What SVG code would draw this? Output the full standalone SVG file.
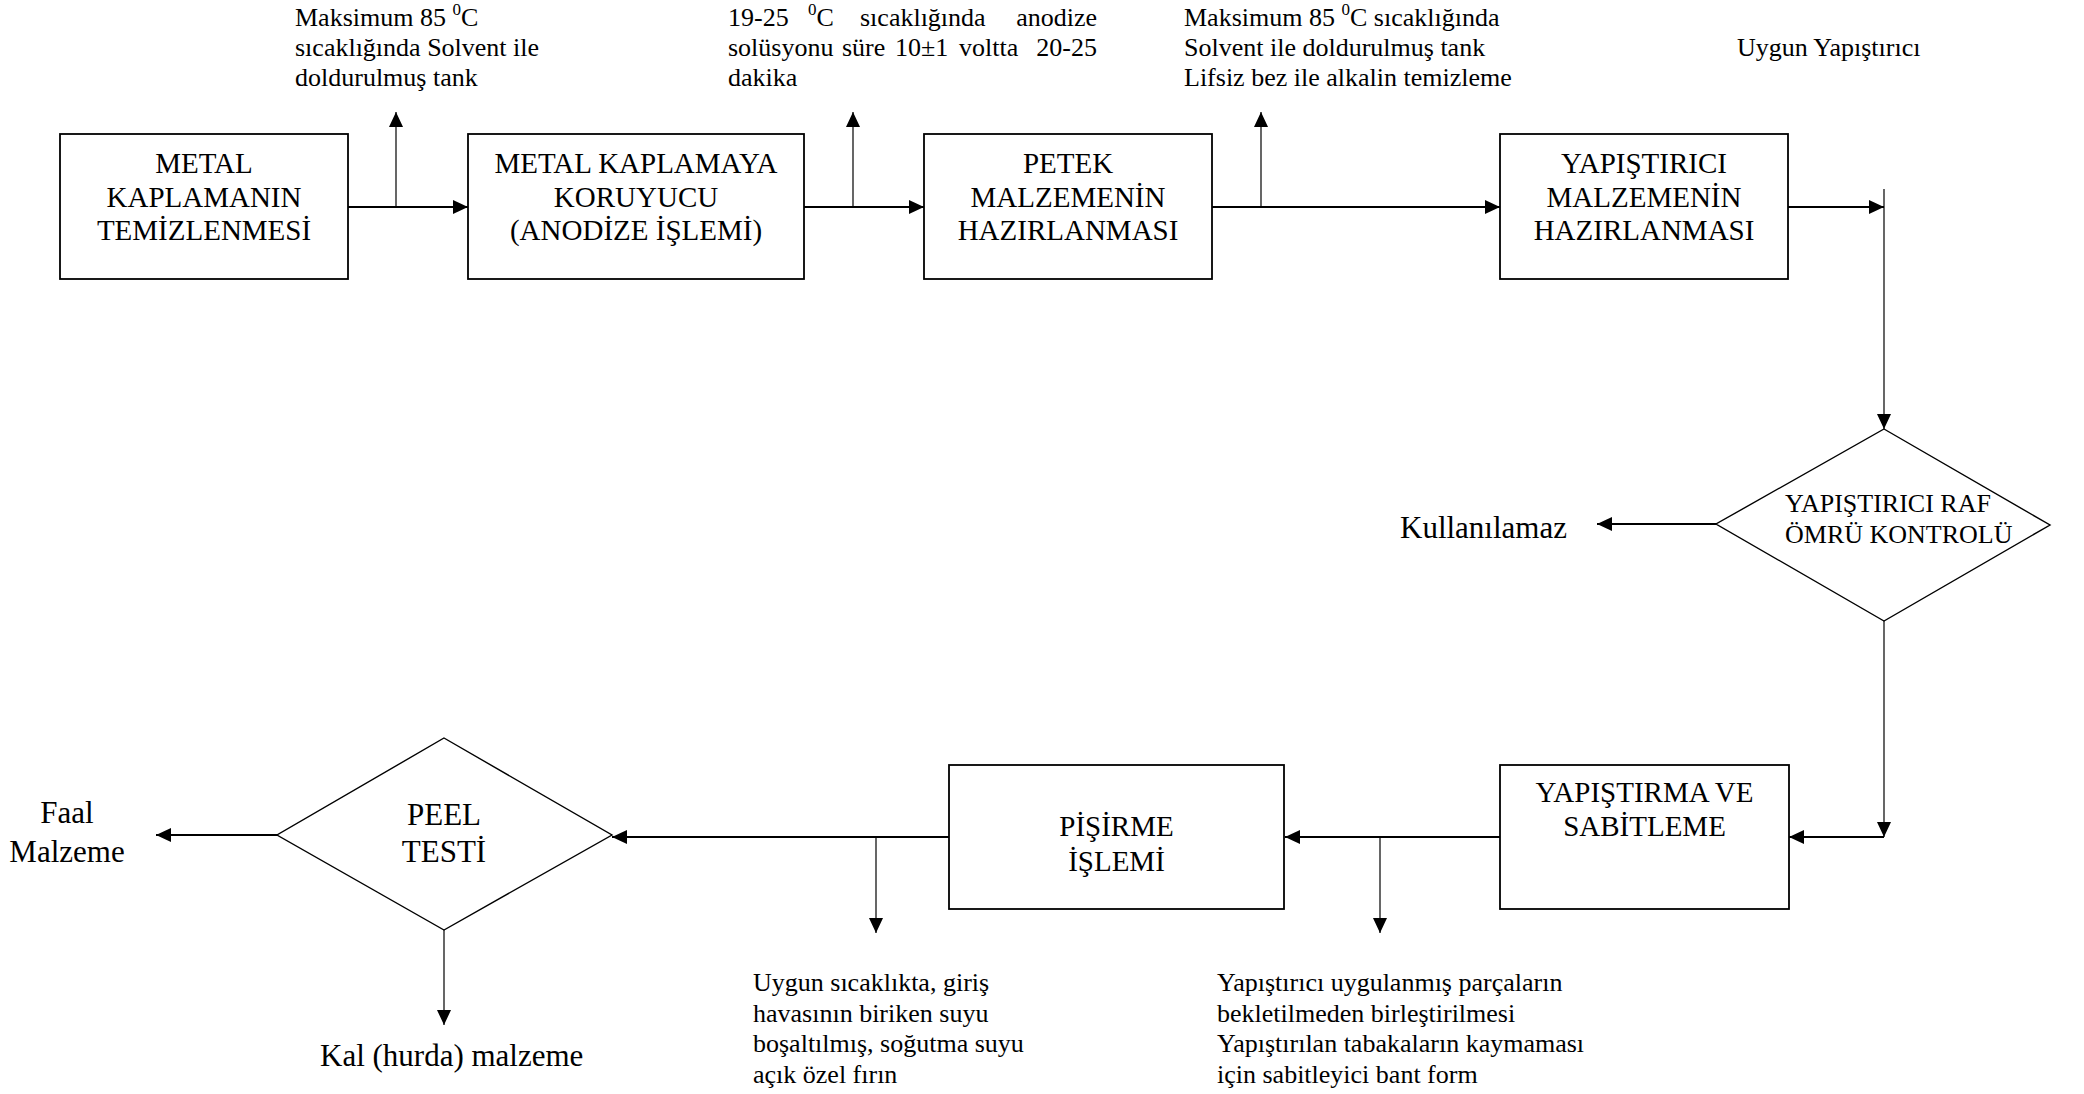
<svg xmlns="http://www.w3.org/2000/svg" width="2084" height="1094" viewBox="0 0 2084 1094">
<defs>
<marker id="ah" viewBox="0 0 15 14" refX="15" refY="7" markerWidth="15" markerHeight="14" markerUnits="userSpaceOnUse" orient="auto">
<path d="M0,0 L15,7 L0,14 z" fill="#000"/>
</marker>
<style>
text{font-family:"Liberation Serif","Times New Roman",serif;fill:#000}
.bx{font-size:29px;text-anchor:middle}
.an{font-size:26px}
.lb{font-size:31px}
.dt{font-size:26px}
.sup{font-size:17px}
.node{fill:#fff;stroke:#000}
rect.node{stroke-width:1.8}
polygon.node{stroke-width:1.4}
.main{stroke:#000;stroke-width:2;fill:none;marker-end:url(#ah)}
.br{stroke:#000;stroke-width:1.2;fill:none;marker-end:url(#ah)}
</style>
</defs>
<rect x="0" y="0" width="2084" height="1094" fill="#fff"/>

<g id="connectors">
<line class="main" x1="348" y1="207" x2="468" y2="207"/>
<line class="br" x1="396" y1="207" x2="396" y2="112"/>
<line class="main" x1="804" y1="207" x2="924" y2="207"/>
<line class="br" x1="853" y1="207" x2="853" y2="112"/>
<line class="main" x1="1212" y1="207" x2="1500" y2="207"/>
<line class="br" x1="1261" y1="207" x2="1261" y2="112"/>
<line class="main" x1="1788" y1="207" x2="1884" y2="207"/>
<line class="br" x1="1884" y1="189" x2="1884" y2="429"/>
<line class="main" x1="1716" y1="524" x2="1597" y2="524"/>
<line class="br" x1="1884" y1="621" x2="1884" y2="837"/>
<line class="main" x1="1884" y1="837" x2="1789" y2="837"/>
<line class="main" x1="1500" y1="837" x2="1285" y2="837"/>
<line class="br" x1="1380" y1="837" x2="1380" y2="933"/>
<line class="main" x1="949" y1="837" x2="612" y2="837"/>
<line class="br" x1="876" y1="837" x2="876" y2="933"/>
<line class="main" x1="277" y1="835" x2="156" y2="835"/>
<line class="br" x1="444" y1="930" x2="444" y2="1025"/>
</g>

<g id="note1">
<text class="an" x="295" y="26">Maksimum 85 <tspan class="sup" dy="-11">0</tspan><tspan dy="11">C</tspan></text>
<text class="an" x="295" y="56">sıcaklığında Solvent ile</text>
<text class="an" x="295" y="86">doldurulmuş tank</text>
</g>
<g id="note2">
<text class="an" x="728" y="26">19-25</text>
<text class="an" x="808" y="26"><tspan class="sup" dy="-11">0</tspan><tspan dy="11">C</tspan></text>
<text class="an" x="860" y="26">sıcaklığında</text>
<text class="an" x="1097" y="26" text-anchor="end">anodize</text>
<text class="an" x="728" y="56">solüsyonu</text>
<text class="an" x="842" y="56">süre</text>
<text class="an" x="895" y="56">10±1</text>
<text class="an" x="959" y="56">voltta</text>
<text class="an" x="1097" y="56" text-anchor="end">20-25</text>
<text class="an" x="728" y="86">dakika</text>
</g>
<g id="note3">
<text class="an" x="1184" y="26">Maksimum 85 <tspan class="sup" dy="-11">0</tspan><tspan dy="11">C sıcaklığında</tspan></text>
<text class="an" x="1184" y="56">Solvent ile doldurulmuş tank</text>
<text class="an" x="1184" y="86">Lifsiz bez ile alkalin temizleme</text>
</g>
<g id="note4">
<text class="an" x="1737" y="56">Uygun Yapıştırıcı</text>
</g>

<g id="box1">
<rect class="node" x="60" y="134" width="288" height="145"/>
<text class="bx" x="204" y="173">METAL</text>
<text class="bx" x="204" y="206.5">KAPLAMANIN</text>
<text class="bx" x="204" y="240">TEMİZLENMESİ</text>
</g>
<g id="box2">
<rect class="node" x="468" y="134" width="336" height="145"/>
<text class="bx" x="636" y="173">METAL KAPLAMAYA</text>
<text class="bx" x="636" y="206.5">KORUYUCU</text>
<text class="bx" x="636" y="240">(ANODİZE İŞLEMİ)</text>
</g>
<g id="box3">
<rect class="node" x="924" y="134" width="288" height="145"/>
<text class="bx" x="1068" y="173">PETEK</text>
<text class="bx" x="1068" y="206.5">MALZEMENİN</text>
<text class="bx" x="1068" y="240">HAZIRLANMASI</text>
</g>
<g id="box4">
<rect class="node" x="1500" y="134" width="288" height="145"/>
<text class="bx" x="1644" y="173">YAPIŞTIRICI</text>
<text class="bx" x="1644" y="206.5">MALZEMENİN</text>
<text class="bx" x="1644" y="240">HAZIRLANMASI</text>
</g>

<g id="decision1">
<polygon class="node" points="1884,429 2050,525 1884,621 1716,524"/>
<text class="dt" x="1785" y="512">YAPIŞTIRICI RAF</text>
<text class="dt" x="1785" y="543">ÖMRÜ KONTROLÜ</text>
</g>
<g id="unusable">
<text class="lb" x="1400" y="538">Kullanılamaz</text>
</g>

<g id="box5">
<rect class="node" x="1500" y="765" width="289" height="144"/>
<text class="bx" x="1644.5" y="801.5">YAPIŞTIRMA VE</text>
<text class="bx" x="1644.5" y="836">SABİTLEME</text>
</g>
<g id="note5">
<text class="an" x="1217" y="991">Yapıştırıcı uygulanmış parçaların</text>
<text class="an" x="1217" y="1021.5">bekletilmeden birleştirilmesi</text>
<text class="an" x="1217" y="1052">Yapıştırılan tabakaların kaymaması</text>
<text class="an" x="1217" y="1082.5">için sabitleyici bant form</text>
</g>

<g id="box6">
<rect class="node" x="949" y="765" width="335" height="144"/>
<text class="bx" x="1116.5" y="836">PİŞİRME</text>
<text class="bx" x="1116.5" y="870.5">İŞLEMİ</text>
</g>
<g id="note6">
<text class="an" x="753" y="991">Uygun sıcaklıkta, giriş</text>
<text class="an" x="753" y="1021.5">havasının biriken suyu</text>
<text class="an" x="753" y="1052">boşaltılmış, soğutma suyu</text>
<text class="an" x="753" y="1082.5">açık özel fırın</text>
</g>

<g id="decision2">
<polygon class="node" points="444,738 612,835 444,930 277,835"/>
<text class="lb" x="444" y="825" text-anchor="middle">PEEL</text>
<text class="lb" x="444" y="862" text-anchor="middle">TESTİ</text>
</g>
<g id="pass">
<text class="lb" x="67" y="823" text-anchor="middle">Faal</text>
<text class="lb" x="67" y="862" text-anchor="middle">Malzeme</text>
</g>
<g id="scrap">
<text class="lb" x="320" y="1066">Kal (hurda) malzeme</text>
</g>
</svg>
